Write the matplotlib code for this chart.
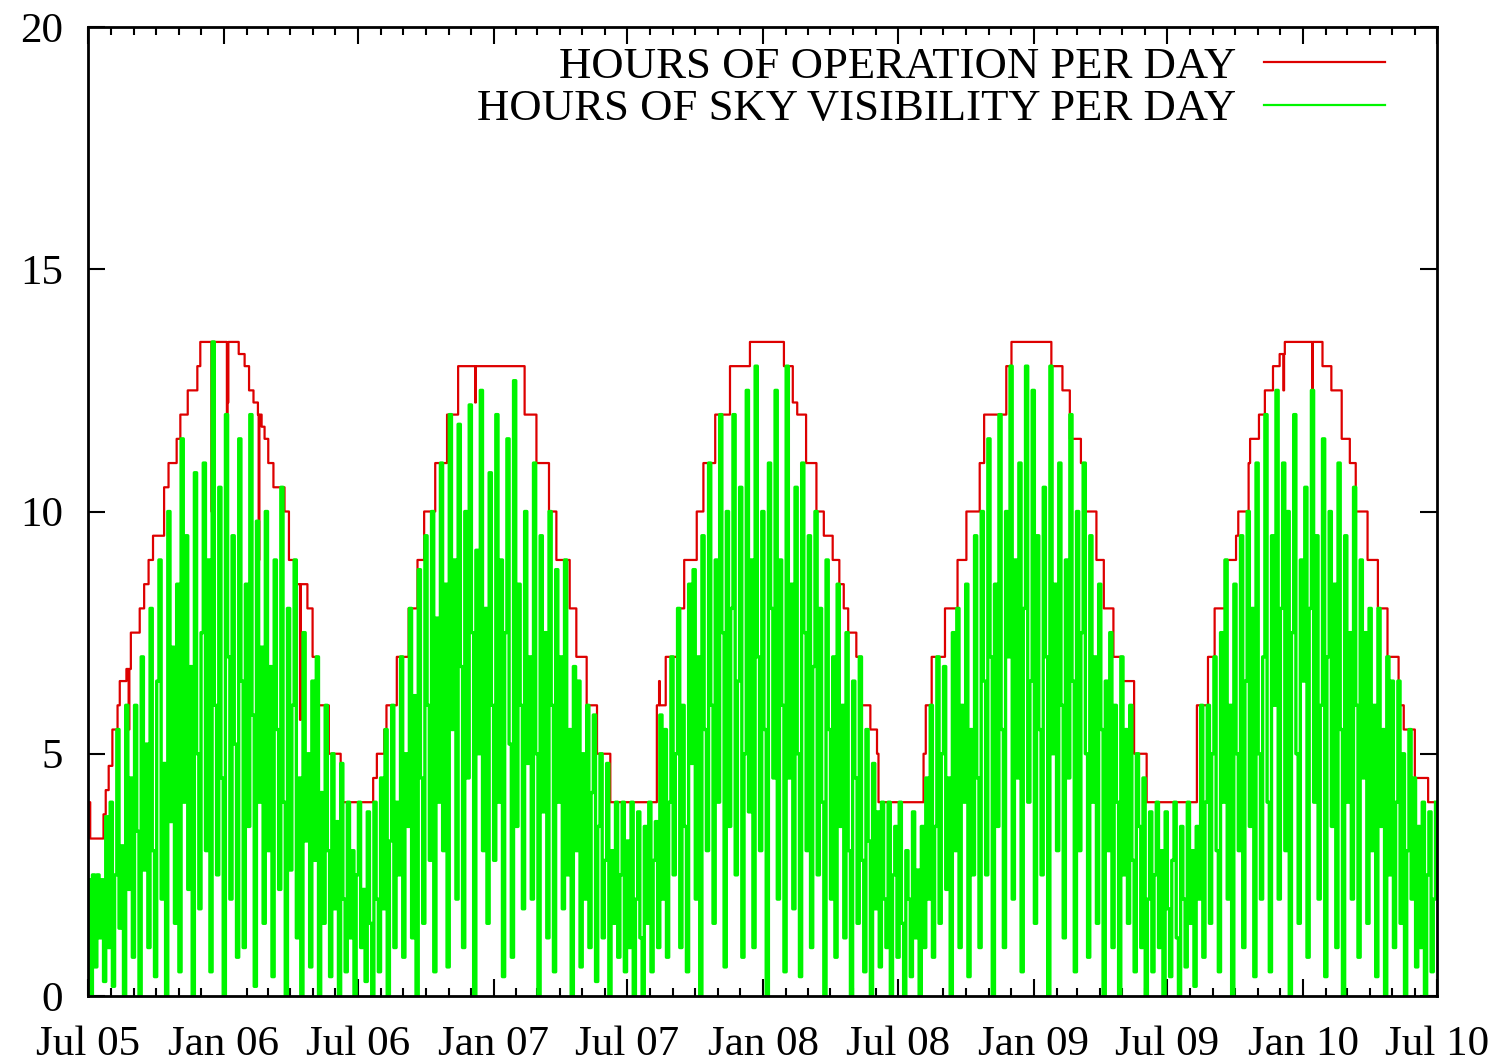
import numpy as np
import matplotlib.pyplot as plt
import matplotlib.dates as mdates

plt.rcParams['font.family'] = ['Liberation Serif', 'DejaVu Serif']

start = np.datetime64('2005-07-01')
end = np.datetime64('2010-07-01')

# hours of operation per day: day (offset from 1 Jul 2005) where a new level starts
red_step_day = [0, 3, 21, 24, 28, 33, 40, 43, 52, 58, 70, 76, 82, 88, 103, 109, 120, 125,
                135, 148, 152, 204, 212, 218, 224, 230, 235, 239, 244, 251, 266, 272, 282,
                297, 304, 310, 326, 342, 386, 391, 401, 404, 418, 434, 446, 455, 470, 486,
                501, 591, 607, 624, 634, 652, 661, 675, 689, 707, 770, 782, 798, 807, 824,
                833, 849, 869, 896, 942, 954, 960, 972, 986, 996, 1008, 1017, 1023, 1029,
                1040, 1047, 1059, 1068, 1070, 1131, 1134, 1142, 1160, 1177, 1189, 1207,
                1213, 1243, 1250, 1304, 1319, 1329, 1344, 1350, 1365, 1375, 1388, 1400,
                1416, 1433, 1501, 1516, 1525, 1539, 1554, 1557, 1571, 1573, 1585, 1593,
                1604, 1613, 1620, 1671, 1683, 1697, 1708, 1716, 1732, 1746, 1759, 1774,
                1781, 1796, 1814]
red_step_hours = [4.0, 3.25, 3.75, 4.25, 4.75, 5.5, 6.0, 6.5, 6.75, 7.5, 8.0, 8.5, 9.0, 9.5,
                  10.5, 11.0, 11.5, 12.0, 12.5, 13.0, 13.5, 13.25, 13.0, 12.5, 12.25, 12.0,
                  11.75, 11.5, 11.0, 10.5, 10.0, 9.0, 8.5, 8.0, 7.0, 6.0, 5.0, 4.0, 4.5, 5.0,
                  5.5, 6.0, 7.0, 8.0, 9.0, 10.0, 11.0, 12.0, 13.0, 12.0, 11.0, 10.0, 9.0,
                  8.0, 7.0, 6.0, 5.0, 4.0, 6.0, 7.0, 8.0, 9.0, 10.0, 11.0, 12.0, 13.0, 13.5,
                  13.0, 12.25, 12.0, 11.0, 10.0, 9.5, 9.0, 8.5, 8.0, 7.5, 7.0, 6.0, 5.5, 5.0,
                  4.0, 5.0, 6.0, 7.0, 8.0, 9.0, 10.0, 11.0, 12.0, 13.0, 13.5, 13.0, 12.5,
                  11.5, 11.0, 10.0, 9.0, 8.0, 7.0, 6.5, 5.0, 4.0, 6.0, 7.0, 8.0, 9.0, 9.5,
                  10.0, 11.0, 11.5, 12.0, 12.5, 13.0, 13.25, 13.5, 13.0, 12.5, 11.5, 11.0,
                  10.0, 9.0, 8.0, 7.0, 6.0, 5.5, 4.5, 4.0]

# single days with reduced (or extra) operation
red_dip_day = [55, 167, 188, 189, 231, 287, 524, 773, 1570, 1618, 1657]
red_dip_hours = [5.5, 10.0, 8.8, 12.25, 9.0, 5.7, 12.25, 6.5, 7.8, 12.5, 12.25]

# hours of sky visibility, one reading every 3 days
green_every = 3
green_hours = [
    2.4, 0.0, 2.5, 0.6, 2.5, 1.2, 2.4, 0.3, 3.7, 1.0,
    4.0, 0.2, 2.5, 5.5, 1.4, 3.1, 0.0, 6.0, 2.2, 4.5,
    0.8, 6.0, 3.4, 0.0, 7.0, 2.6, 5.2, 1.0, 8.0, 3.0,
    0.4, 6.5, 9.0, 2.0, 4.8, 0.0, 10.0, 3.6, 7.2, 1.5,
    8.5, 0.5, 11.5, 4.0, 9.5, 2.2, 6.8, 0.0, 10.8, 5.0,
    1.8, 7.5, 11.0, 3.0, 9.0, 0.5, 13.5, 6.0, 2.5, 10.5,
    4.5, 0.0, 12.0, 7.0, 2.0, 9.5, 5.2, 0.8, 11.5, 6.5,
    1.0, 8.5, 3.5, 12.0, 5.8, 0.2, 9.8, 4.0, 7.2, 1.5,
    10.0, 3.0, 6.8, 0.4, 9.0, 5.5, 2.2, 10.5, 4.0, 0.0,
    8.0, 2.6, 6.0, 9.0, 1.2, 4.5, 0.0, 7.5, 3.2, 5.0,
    0.6, 6.5, 2.8, 7.0, 0.0, 4.2, 1.5, 6.0, 3.0, 0.4,
    5.0, 1.8, 3.6, 0.0, 4.8, 2.0, 0.5, 4.0, 1.2, 3.0,
    0.0, 2.5, 4.0, 1.0, 2.2, 0.3, 3.8, 1.5, 0.0, 4.0,
    2.0, 0.5, 4.5, 1.8, 5.5, 0.0, 3.2, 6.0, 1.0, 4.0,
    2.5, 7.0, 0.8, 5.0, 3.5, 8.0, 1.2, 6.2, 0.0, 8.8,
    4.5, 1.5, 9.5, 6.0, 2.8, 10.0, 0.5, 7.8, 4.0, 11.0,
    3.0, 8.5, 0.6, 12.0, 5.5, 9.0, 2.0, 11.8, 6.8, 1.0,
    10.0, 4.5, 12.2, 7.5, 0.0, 9.2, 5.0, 12.5, 3.0, 8.0,
    1.5, 10.8, 6.0, 2.8, 12.0, 4.0, 9.0, 0.4, 7.5, 11.5,
    5.2, 0.8, 12.7, 3.5, 8.5, 6.0, 1.8, 10.0, 4.8, 7.0,
    2.0, 11.0, 5.0, 0.0, 9.5, 3.8, 7.5, 1.2, 10.0, 6.0,
    0.5, 8.8, 4.0, 7.0, 1.8, 9.0, 2.5, 5.5, 0.0, 6.8,
    3.0, 6.5, 0.6, 5.0, 2.0, 6.0, 1.0, 4.2, 5.8, 0.3,
    3.5, 5.0, 1.2, 2.8, 4.8, 0.0, 3.0, 1.5, 4.0, 0.8,
    2.5, 4.0, 0.5, 3.2, 1.0, 4.0, 0.0, 2.0, 3.8, 1.2,
    0.0, 3.5, 1.5, 4.0, 0.5, 2.8, 3.6, 1.0, 5.8, 2.0,
    5.5, 0.8, 4.0, 7.0, 2.5, 5.0, 8.0, 1.0, 6.0, 3.5,
    0.5, 8.5, 4.8, 8.8, 2.0, 7.0, 0.0, 9.5, 5.5, 3.0,
    11.0, 6.0, 1.5, 9.0, 4.0, 12.0, 7.5, 0.6, 10.0, 3.5,
    8.0, 12.0, 2.5, 6.5, 10.5, 0.8, 5.0, 12.5, 3.8, 9.0,
    1.0, 13.0, 7.0, 3.0, 10.0, 5.5, 0.0, 11.0, 8.0, 4.5,
    12.5, 2.0, 9.0, 6.0, 0.5, 13.0, 4.5, 8.5, 1.8, 10.5,
    5.0, 0.4, 11.0, 7.5, 3.0, 9.5, 1.0, 6.8, 10.0, 2.5,
    8.0, 4.0, 0.0, 9.0, 5.5, 2.0, 7.0, 0.8, 8.5, 3.5,
    6.0, 1.2, 7.5, 3.0, 0.0, 6.5, 4.5, 1.5, 7.0, 2.8,
    0.5, 5.5, 3.2, 0.0, 4.8, 1.8, 3.8, 0.6, 4.0, 2.0,
    1.0, 4.0, 0.0, 2.5, 3.5, 0.8, 4.0, 1.5, 0.0, 3.0,
    2.0, 0.4, 3.8, 1.2, 2.6, 0.0, 3.5, 1.0, 4.5, 2.0,
    6.0, 0.8, 3.5, 7.0, 1.5, 5.0, 6.8, 2.2, 4.5, 0.0,
    7.5, 3.0, 8.0, 1.0, 6.0, 4.0, 8.5, 0.4, 5.5, 2.5,
    9.5, 4.5, 1.0, 10.0, 6.5, 2.5, 11.5, 7.0, 0.0, 8.5,
    3.5, 12.0, 5.5, 1.0, 10.0, 7.0, 13.0, 2.0, 9.0, 4.5,
    11.0, 0.5, 8.0, 13.0, 4.0, 6.5, 12.5, 1.5, 9.5, 5.5,
    2.5, 10.5, 7.0, 0.0, 13.0, 5.0, 8.5, 3.0, 11.0, 6.0,
    1.2, 9.0, 4.5, 12.0, 6.5, 0.5, 10.0, 3.0, 7.5, 11.0,
    5.0, 0.8, 9.5, 4.0, 7.0, 1.5, 8.5, 5.5, 0.0, 6.5,
    3.0, 7.5, 1.0, 6.0, 4.0, 0.0, 7.0, 2.5, 5.5, 1.5,
    6.0, 2.8, 0.5, 5.0, 3.5, 1.0, 4.5, 0.0, 2.0, 3.8,
    0.5, 2.5, 4.0, 1.0, 3.0, 0.0, 3.8, 1.8, 0.4, 2.8,
    4.0, 1.2, 0.0, 3.5, 2.0, 0.6, 4.0, 1.5, 3.0, 0.2,
    3.5, 2.0, 6.0, 0.8, 4.0, 6.0, 1.5, 5.0, 7.0, 3.0,
    0.5, 7.5, 4.0, 9.0, 2.0, 6.0, 0.0, 8.5, 5.0, 3.0,
    9.5, 1.0, 6.5, 10.0, 3.5, 8.0, 0.4, 11.0, 5.0, 2.0,
    7.0, 12.0, 4.0, 0.5, 9.5, 6.0, 12.5, 2.0, 8.0, 11.0,
    3.0, 10.0, 0.0, 7.5, 12.0, 5.0, 1.5, 9.0, 6.5, 10.5,
    0.8, 8.0, 12.5, 4.0, 9.5, 2.0, 6.0, 11.5, 0.4, 7.0,
    10.0, 3.5, 8.5, 1.0, 11.0, 5.5, 0.0, 9.5, 4.0, 7.5,
    2.0, 10.5, 6.0, 0.8, 9.0, 4.5, 7.5, 1.5, 8.0, 3.0,
    6.0, 0.4, 8.0, 3.5, 5.5, 0.0, 7.0, 2.5, 6.5, 1.0,
    4.0, 6.5, 1.5, 5.0, 0.0, 3.0, 5.5, 2.0, 4.5, 0.6,
    3.5, 1.0, 4.0, 0.0, 2.5, 3.8, 0.5, 2.0, 4.0,
]

# daily operation hours from the level changes
n_days = int((end - start).astype(int))
days = np.arange(n_days + 1)
idx = np.searchsorted(red_step_day, days, side='right') - 1
red_daily = np.array(red_step_hours)[idx]
red_daily[red_dip_day] = red_dip_hours
red_dates = start + days

green_dates = start + np.arange(len(green_hours)) * green_every

fig = plt.figure(figsize=(14.97, 10.61), dpi=100)
ax = fig.add_axes([88 / 1497, 65 / 1061, 1349 / 1497, 969 / 1061])

ax.plot(red_dates, red_daily, drawstyle='steps-post', color='#dd0000', lw=1.6,
        label='HOURS OF OPERATION PER DAY')
ax.plot(green_dates, green_hours, drawstyle='steps-post', color='#00f500', lw=2.4,
        label='HOURS OF SKY VISIBILITY PER DAY')

ax.set_xlim(start, end)
ax.set_ylim(0, 20)
ax.set_yticks([0, 5, 10, 15, 20])
ax.xaxis.set_major_locator(mdates.MonthLocator(bymonth=(1, 7)))
ax.xaxis.set_minor_locator(mdates.MonthLocator())
ax.xaxis.set_major_formatter(mdates.DateFormatter('%b %y'))

ax.tick_params(which='both', direction='in', top=True, right=True, width=1.5,
               labelsize=31)
ax.tick_params(which='major', length=12)
ax.tick_params(which='minor', length=6)
ax.tick_params(axis='x', pad=21)
ax.tick_params(axis='y', pad=18)
for s in ax.spines.values():
    s.set_linewidth(2)

leg = ax.legend(loc='upper right', bbox_to_anchor=(0.9615, 0.980), markerfirst=False,
                frameon=False, fontsize=32.2, handlelength=2.7, handletextpad=0.62,
                borderpad=0, borderaxespad=0, labelspacing=0.05)
for line in leg.get_lines():
    line.set_linewidth(1.6)

fig.savefig('out.png', dpi=100)
